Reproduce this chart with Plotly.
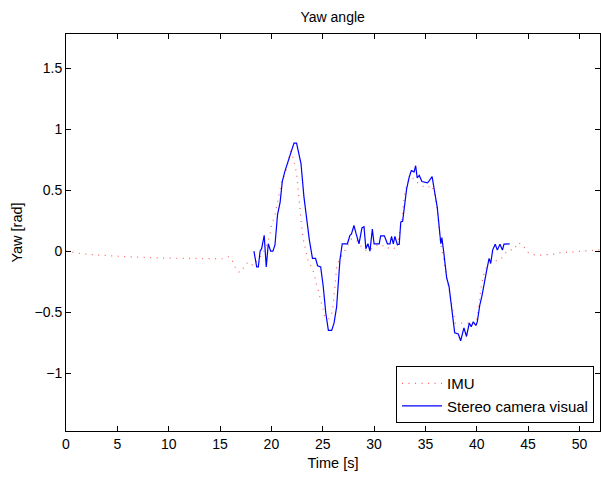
import plotly.graph_objects as go

# IMU yaw (red dotted)
imu_t = [0, 1.4, 2.7, 4.3, 5.9, 9.2, 12.4, 15.3, 15.8, 16.1,
         16.4, 16.6, 16.95, 17.27, 17.6, 17.9, 18.2, 18.57, 18.9, 19.1,
         19.54, 19.86, 20.0, 20.35, 20.5, 20.74, 21.0, 21.26, 21.5, 21.7,
         21.85, 22.0, 22.2, 22.46, 22.6, 22.7, 22.78, 22.95, 23.1, 23.27,
         23.45, 23.6, 23.9, 24.1, 24.25, 24.4, 24.6, 24.75, 25.05, 25.2,
         25.55, 25.87, 26.03, 26.2, 26.35, 26.5, 27.0, 27.3, 27.8, 28.3,
         28.9, 29.4, 29.9, 30.4, 30.83, 31.2, 31.7, 32.2, 32.45, 32.7,
         32.85, 33.0, 33.33, 33.66, 34.0, 34.3, 34.8, 35.2, 35.6, 35.9,
         36.15, 36.3, 36.4, 36.6, 36.9, 37.2, 37.45, 37.65, 37.9, 38.2,
         38.6, 39.0, 39.5, 39.9, 40.05, 40.3, 40.6, 40.96, 41.3, 41.8,
         42.2, 42.4, 42.9, 43.2, 43.6, 44.0, 44.5, 44.85, 45.34, 45.8,
         46.5, 47.5, 48.1, 49.4, 50.7, 52.0]
imu_yaw = [0, -0.02, -0.03, -0.04, -0.046, -0.057, -0.063, -0.063, -0.047, -0.06,
           -0.115, -0.16, -0.175, -0.14, -0.10, -0.09, -0.12, -0.08, -0.047, -0.03,
           0.05, 0.13, 0.21, 0.295, 0.36, 0.46, 0.57, 0.62, 0.68, 0.76,
           0.82, 0.80, 0.73, 0.64, 0.51, 0.40, 0.34, 0.2, 0.1, 0.03,
           -0.03, -0.09, -0.13, -0.17, -0.22, -0.28, -0.33, -0.39, -0.48, -0.54,
           -0.56, -0.52, -0.43, -0.29, -0.14, -0.09, -0.02, 0.02, 0.10, 0.09,
           0.02, 0.0, 0.03, 0.055, 0.045, 0.02, 0.035, 0.015, 0.13, 0.25,
           0.38, 0.49, 0.57, 0.6, 0.59, 0.555, 0.53, 0.52, 0.54, 0.46,
           0.34, 0.2, 0.12, 0.01, -0.13, -0.27, -0.37, -0.48, -0.59, -0.59,
           -0.59, -0.59, -0.59, -0.6, -0.54, -0.37, -0.21, -0.13, -0.10, -0.08,
           -0.074, -0.06, -0.005, 0.01, 0.01, 0.07, 0.05, -0.005, -0.025, -0.035,
           -0.033, -0.025, -0.014, -0.005, 0.003, 0.01]

# Stereo camera visual yaw (blue solid)
stereo_t = [18.3, 18.57, 18.73, 18.9, 19.05, 19.3, 19.5, 19.7, 19.93, 20.15,
            20.35, 20.6, 20.85, 21.06, 21.3, 21.6, 21.8, 22.05, 22.2, 22.45,
            22.88, 23.17, 23.5, 23.7, 24.0, 24.3, 24.5, 24.8, 25.05, 25.3,
            25.55, 25.87, 26.1, 26.35, 26.68, 26.9, 27.4, 27.65, 27.8, 28.04,
            28.24, 28.53, 28.82, 29.02, 29.2, 29.4, 29.6, 29.83, 30.0, 30.5,
            30.64, 31.0, 31.3, 31.55, 31.7, 31.87, 32.03, 32.26, 32.45, 32.6,
            32.78, 33.0, 33.17, 33.43, 33.63, 33.9, 34.05, 34.2, 34.4, 34.66,
            35.2, 35.4, 35.65, 35.93, 36.15, 36.5, 36.6, 36.8, 37.07, 37.3,
            37.58, 37.85, 38.2, 38.43, 38.75, 39.0, 39.27, 39.46, 39.66, 39.92,
            40.05, 40.3, 40.5, 40.7, 40.96, 41.2, 41.36, 41.55, 41.8, 42.0,
            42.26, 42.5, 42.65, 43.2]
stereo_yaw = [0.0, -0.13, -0.13, 0.0, 0.02, 0.13, -0.13, 0.06, 0.0, 0.0,
              0.05, 0.3, 0.4, 0.57, 0.65, 0.73, 0.79, 0.84, 0.885, 0.885,
              0.72, 0.445, 0.19, 0.09, -0.06, -0.06, -0.12, -0.13, -0.29, -0.51,
              -0.65, -0.65, -0.59, -0.46, -0.07, 0.06, 0.06, 0.13, 0.14, 0.21,
              0.145, 0.06, 0.19, 0.2, 0.02, 0.06, 0.0, 0.18, 0.06, 0.06,
              0.125, 0.125, 0.06, 0.06, 0.12, 0.06, 0.12, 0.055, 0.055, 0.24,
              0.245, 0.42, 0.51, 0.61, 0.66, 0.65, 0.70, 0.60, 0.62, 0.57,
              0.56, 0.58, 0.61, 0.47, 0.36, 0.06, 0.11, -0.02, -0.22, -0.29,
              -0.5, -0.67, -0.68, -0.735, -0.63, -0.70, -0.59, -0.62, -0.58, -0.61,
              -0.58, -0.44, -0.37, -0.265, -0.16, -0.06, -0.10, 0.01, 0.057, 0.008,
              0.057, 0.008, 0.057, 0.06]

x_ticks = [0, 5, 10, 15, 20, 25, 30, 35, 40, 45, 50]
y_ticks = [-1, -0.5, 0, 0.5, 1, 1.5]

FONT = "Liberation Sans, Arial, Helvetica, sans-serif"

fig = go.Figure()
fig.add_trace(go.Scatter(x=imu_t, y=imu_yaw, mode="lines", name="IMU",
                         line=dict(color="rgba(255,40,40,0.75)", width=1.2, dash="1px,5.5px")))
fig.add_trace(go.Scatter(x=stereo_t, y=stereo_yaw, mode="lines", name="Stereo camera visual",
                         line=dict(color="blue", width=1.2)))

axis_common = dict(showline=True, linecolor="black", linewidth=1, mirror="ticks",
                   ticks="inside", ticklen=5, tickcolor="black", showgrid=False,
                   zeroline=False, tickfont=dict(family=FONT, size=14, color="black"))

fig.update_layout(
    width=601, height=477,
    margin=dict(l=66, r=1, t=34, b=46),
    paper_bgcolor="white", plot_bgcolor="white",
    font=dict(family=FONT, color="black"),
    title=dict(text="Yaw angle", x=0.5535, xanchor="center", y=0.965, yanchor="middle",
               font=dict(family=FONT, size=14, color="black")),
    xaxis=dict(range=[0, 52], tickvals=x_ticks,
               title=dict(text="Time [s]", standoff=7, font=dict(family=FONT, size=14.5)),
               **axis_common),
    yaxis=dict(range=[-1.475, 1.78], tickvals=y_ticks,
               title=dict(text="Yaw [rad]", standoff=8, font=dict(family=FONT, size=14.5)),
               **axis_common),
    legend=dict(x=0.9888, xanchor="right", y=0.02, yanchor="bottom",
                bordercolor="black", borderwidth=1, bgcolor="white",
                font=dict(family=FONT, size=15, color="black"),
                tracegroupgap=0, itemwidth=40),
    showlegend=True,
)

fig.write_html("out.html")
